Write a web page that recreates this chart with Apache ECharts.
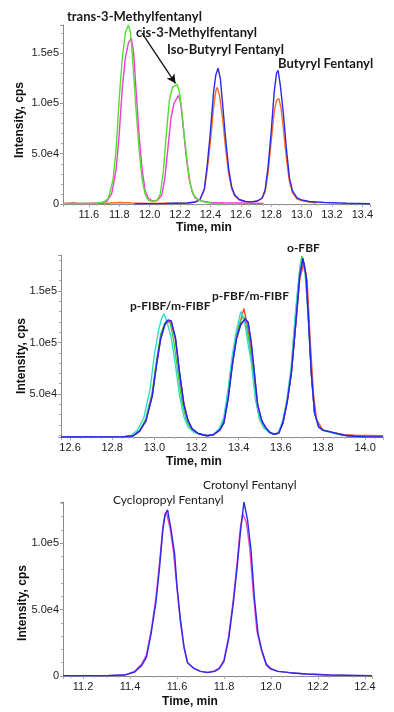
<!DOCTYPE html>
<html><head><meta charset="utf-8">
<script src="https://cdn.jsdelivr.net/npm/echarts@6/dist/echarts.min.js"></script>
<style>html,body{margin:0;padding:0;background:#fff}#c{width:394px;height:712px}</style>
</head><body><div id="c"></div>
<script>
// ---------- Panel 1: methylfentanyl / butyryl fentanyl (time min, intensity k cps)
var p1Green = [[11.43,0.5],[11.55,0.5],[11.65,0.8],[11.70,2],[11.73,6],[11.76,25],[11.78,55],[11.80,105],[11.82,145],[11.84,170],[11.86,178],[11.875,170],[11.89,140],[11.91,95],[11.93,55],[11.95,25],[11.97,10],[11.99,4],[12.02,2.5],[12.05,4],[12.07,10],[12.09,32],[12.11,70],[12.13,103],[12.15,116],[12.16,116.5],[12.18,119],[12.195,112],[12.21,95],[12.23,65],[12.25,38],[12.27,18],[12.29,9],[12.32,4],[12.36,2],[12.42,0.5],[12.48,0.3]];
var p1Pink = [[11.43,0.5],[11.60,0.5],[11.68,1],[11.72,3],[11.75,10],[11.78,35],[11.80,70],[11.82,115],[11.84,145],[11.86,160],[11.88,165],[11.895,150],[11.91,115],[11.93,70],[11.95,35],[11.97,14],[11.99,6],[12.02,3],[12.05,3.5],[12.08,9],[12.10,25],[12.12,55],[12.14,85],[12.16,100],[12.19,108],[12.205,100],[12.22,78],[12.24,48],[12.26,25],[12.28,12],[12.30,6],[12.34,3],[12.40,1.5],[12.50,1],[12.60,1],[12.75,0.5]];
var p1Orange = [[11.43,0.3],[11.50,1.2],[11.53,0.5],[11.70,0.5],[11.80,1.5],[11.88,1],[12.0,0.5],[12.25,1],[12.30,2],[12.33,4],[12.36,14],[12.38,35],[12.40,62],[12.42,95],[12.435,112],[12.445,116],[12.46,108],[12.48,85],[12.50,55],[12.52,30],[12.54,15],[12.56,8],[12.59,4],[12.63,2.5],[12.67,2],[12.71,3],[12.74,5.5],[12.76,12],[12.78,32],[12.80,62],[12.82,92],[12.835,103],[12.85,105],[12.865,95],[12.88,75],[12.90,45],[12.92,22],[12.94,11],[12.97,5],[13.0,3.5],[13.05,2],[13.1,1]];
var p1Blue = [[11.90,0.3],[12.1,0.5],[12.25,1],[12.30,2],[12.33,4],[12.36,15],[12.38,40],[12.40,72],[12.42,110],[12.435,128],[12.45,135],[12.465,125],[12.48,100],[12.50,65],[12.52,35],[12.54,17],[12.56,9],[12.59,4.5],[12.63,2.5],[12.67,2],[12.71,3],[12.74,6],[12.76,14],[12.78,38],[12.80,72],[12.82,112],[12.835,130],[12.845,133],[12.86,118],[12.88,90],[12.90,55],[12.92,26],[12.94,13],[12.97,6],[13.0,4],[13.05,2.5],[13.15,1.5],[13.3,0.8],[13.45,0.3]];
var p1Labels = ['trans-3-Methylfentanyl','cis-3-Methylfentanyl','Iso-Butyryl Fentanyl','Butyryl Fentanyl'];
var p1Arrow = [[11.95,170],[12.17,120]];

// ---------- Panel 2: fluorobutyryl fentanyl isomers
var p2Cyan = [[12.557,8.3],[12.85,8.4],[12.89,9.8],[12.92,15],[12.95,27],[12.98,55],[13.00,88],[13.02,112],[13.035,124],[13.045,128],[13.06,120],[13.08,105],[13.10,78],[13.12,48],[13.14,28],[13.16,18],[13.19,12.5],[13.24,9.8],[13.28,10.5],[13.31,17],[13.33,28],[13.35,55],[13.37,88],[13.39,112],[13.41,130],[13.425,124],[13.44,105],[13.46,80],[13.48,45],[13.50,25],[13.52,17],[13.55,12],[13.57,11],[13.59,13],[13.61,25],[13.63,46],[13.65,78],[13.67,130],[13.69,170],[13.70,180],[13.715,168],[13.73,125],[13.745,68],[13.76,32],[13.78,18],[13.80,14.5],[13.85,12],[13.90,10],[13.95,9],[14.0,8.5],[14.085,8.3]];
var p2Green = [[12.557,8.3],[12.85,8.4],[12.90,9.6],[12.93,14.5],[12.96,26],[12.99,52],[13.01,82],[13.03,108],[13.05,119],[13.06,121],[13.075,119],[13.09,104],[13.11,74],[13.13,44],[13.15,26],[13.17,17],[13.20,12],[13.25,9.6],[13.28,10.5],[13.31,16],[13.33,25],[13.35,50],[13.37,84],[13.39,110],[13.41,122],[13.425,125],[13.44,113],[13.46,86],[13.48,48],[13.50,26],[13.52,17.5],[13.55,12.3],[13.57,11],[13.59,12.5],[13.61,23],[13.63,44],[13.65,74],[13.67,128],[13.69,172],[13.70,184],[13.715,170],[13.73,128],[13.745,70],[13.76,32],[13.78,18],[13.80,15],[13.85,12.3],[13.90,10],[13.95,9],[14.0,8.6],[14.085,8.4]];
var p2Orange = [[12.557,8.3],[12.85,8.4],[12.90,9.5],[12.93,14],[12.96,25],[12.99,50],[13.01,80],[13.03,106],[13.05,118],[13.065,120],[13.08,119],[13.10,103],[13.12,70],[13.14,41],[13.16,24],[13.18,16],[13.21,11.5],[13.25,9.5],[13.28,10.5],[13.31,15],[13.33,23],[13.35,47],[13.37,80],[13.39,106],[13.41,122],[13.425,133],[13.44,118],[13.46,90],[13.48,46],[13.50,25],[13.52,17],[13.55,12.3],[13.57,11],[13.59,12],[13.61,22],[13.63,42],[13.65,70],[13.675,126],[13.69,162],[13.71,178],[13.725,160],[13.74,100],[13.755,50],[13.77,25],[13.80,15],[13.85,12.5],[13.90,10.5],[13.95,10],[14.0,9.8],[14.085,9.5]];
var p2Magenta = [[12.557,8.3],[12.85,8.4],[12.90,9.5],[12.93,14],[12.96,24],[12.99,48],[13.01,78],[13.03,103],[13.05,117],[13.065,121],[13.08,120],[13.10,104],[13.12,69],[13.14,40],[13.16,24],[13.18,16],[13.21,11.5],[13.25,9.5],[13.28,10.5],[13.31,15],[13.33,22],[13.35,45],[13.37,78],[13.39,104],[13.41,117],[13.43,122],[13.445,119],[13.46,99],[13.47,79],[13.49,40],[13.51,24],[13.53,17],[13.55,12.5],[13.57,11],[13.59,12],[13.61,22],[13.63,42],[13.65,70],[13.675,128],[13.69,165],[13.705,180],[13.72,164],[13.73,127],[13.745,70],[13.76,32],[13.78,18],[13.80,15],[13.85,12.5],[13.90,10],[13.95,9],[14.0,8.6],[14.085,8.4]];
var p2Blue = [[12.557,8.3],[12.85,8.4],[12.90,9.5],[12.93,14],[12.96,24],[12.99,48],[13.01,78],[13.03,104],[13.05,118],[13.065,122],[13.08,121],[13.10,105],[13.12,70],[13.14,40],[13.16,24],[13.18,16],[13.21,11.5],[13.25,9.5],[13.28,10.5],[13.31,15],[13.33,22],[13.35,45],[13.37,78],[13.39,104],[13.41,118],[13.43,123],[13.445,120],[13.46,100],[13.47,80],[13.49,40],[13.51,24],[13.53,17],[13.55,12.5],[13.57,11],[13.59,12],[13.61,22],[13.63,42],[13.65,70],[13.675,128],[13.69,165],[13.705,182],[13.72,165],[13.73,128],[13.745,70],[13.76,32],[13.78,18],[13.80,15],[13.85,12.5],[13.90,10],[13.95,9],[14.0,8.6],[14.085,8.4]];
var p2Labels = ['p-FIBF/m-FIBF','p-FBF/m-FIBF','o-FBF'];

// ---------- Panel 3: cyclopropyl / crotonyl fentanyl
var p3Magenta = [[11.115,0.3],[11.30,0.3],[11.38,0.9],[11.42,3.5],[11.45,9],[11.47,16],[11.49,34],[11.51,58],[11.525,84],[11.54,112],[11.547,120],[11.555,123],[11.57,112],[11.585,94],[11.60,66],[11.615,40],[11.63,21],[11.645,10],[11.67,6],[11.70,3.5],[11.73,2.8],[11.76,3.8],[11.78,6],[11.80,12],[11.82,30],[11.84,58],[11.855,84],[11.87,112],[11.88,122],[11.895,116],[11.91,96],[11.925,62],[11.94,34],[11.96,19],[11.98,8],[12.0,5],[12.03,3.5],[12.08,2.5],[12.15,1.5],[12.25,0.8],[12.35,0.5],[12.43,0.3]];
var p3Blue = [[11.115,0.3],[11.30,0.3],[11.38,0.8],[11.42,3],[11.45,8],[11.47,14],[11.49,32],[11.51,55],[11.525,80],[11.54,110],[11.55,122],[11.56,125],[11.575,110],[11.59,92],[11.60,68],[11.615,42],[11.63,22],[11.645,10],[11.67,6],[11.70,3.5],[11.73,2.5],[11.76,3.5],[11.78,5.5],[11.80,11],[11.82,28],[11.84,55],[11.855,80],[11.87,108],[11.885,131],[11.90,118],[11.915,95],[11.93,58],[11.945,32],[11.96,20],[11.98,9],[12.0,5.5],[12.03,3.5],[12.08,2.5],[12.15,1.5],[12.25,0.8],[12.35,0.5],[12.43,0.3]];
var p3Labels = ['Crotonyl Fentanyl','Cyclopropyl Fentanyl'];

var axisTitleX = 'Time, min';
var axisTitleY = 'Intensity, cps';
var xRanges = [[11.43,13.45],[12.557,14.085],[11.115,12.43]];
var yRanges = [[0,178000],[8300,185000],[0,131000]];
var yInterval = [50000, null, 50000];

function toCps(arr){ return arr.map(function(p){ return [p[0], p[1]*1000]; }); }
function fmtY(v){ if (v === 0) return '0'; return v.toExponential(1).replace('e+','e'); }

var grids = [
  {left:63, top:25, width:307, height:179},
  {left:61, top:255, width:322, height:182},
  {left:63, top:502, width:309, height:174}
];
var xSplit = [10, 8, 7];
var xAxes = grids.map(function(g,i){
  return {
    type:'value', gridIndex:i, min:xRanges[i][0], max:xRanges[i][1], splitNumber:xSplit[i],
    axisLine:{show:true, lineStyle:{color:'#8a8a8a', width:1}},
    axisTick:{show:true, length:3, lineStyle:{color:'#aaa'}},
    minorTick:{show:true, splitNumber:4, length:2, lineStyle:{color:'#bbb'}},
    splitLine:{show:false},
    axisLabel:{showMinLabel:false, showMaxLabel:false, color:'#222', fontFamily:'Liberation Sans, Arial', fontSize:11, margin:5,
      formatter:function(v){ return v.toFixed(1); }}
  };
});
var yAxes = grids.map(function(g,i){
  var a = {
    type:'value', gridIndex:i, min:yRanges[i][0], max:yRanges[i][1], splitNumber:4,
    axisLine:{show:true, lineStyle:{color:'#8a8a8a', width:1}},
    axisTick:{show:true, length:3, lineStyle:{color:'#999'}},
    minorTick:{show:true, splitNumber:5, length:2, lineStyle:{color:'#aaa'}},
    splitLine:{show:false},
    axisLabel:{showMinLabel: i===1 ? false : true, showMaxLabel:false, color:'#222', fontFamily:'Liberation Sans, Arial', fontSize:11, margin:4, formatter:fmtY}
  };
  if (yInterval[i]) a.interval = yInterval[i];
  return a;
});

function line(data, color, gi, extra){
  var s = {type:'line', xAxisIndex:gi, yAxisIndex:gi, data:toCps(data), showSymbol:false, symbol:'none',
    lineStyle:{color:color, width:1.4}, itemStyle:{color:color}, animation:false, silent:true};
  if (extra) for (var k in extra) s[k]=extra[k];
  return s;
}

var series = [
  line(p1Orange, '#ff6a2a', 0),
  line(p1Blue, '#2a2ae8', 0),
  line(p1Pink, '#f03cd8', 0),
  line(p1Green, '#55dd33', 0, {markLine:{silent:true, symbol:['none','arrow'], symbolSize:[7,9],
    lineStyle:{color:'#111', width:1.3, type:'solid'}, label:{show:false},
    data:[[{coord:[p1Arrow[0][0], p1Arrow[0][1]*1000]},{coord:[p1Arrow[1][0], p1Arrow[1][1]*1000]}]]}}),
  line(p2Orange, '#ff4a1a', 1),
  line(p2Green, '#44cc33', 1),
  line(p2Cyan, '#33ddc8', 1),
  line(p2Magenta, '#c040d0', 1),
  line(p2Blue, '#1a2ae8', 1),
  line(p3Magenta, '#ee44c8', 2),
  line(p3Blue, '#2a2ae8', 2)
];

var boldLbl13 = {fontFamily:'Lato, Open Sans', fontWeight:'bold', fontSize:13, fill:'#1a1a1a', textVerticalAlign:'middle'};
var boldLbl = {fontFamily:'Lato, Open Sans', fontWeight:'bold', fontSize:12, fill:'#1a1a1a', textVerticalAlign:'middle'};
var regLbl = {fontFamily:'Lato, Open Sans', fontWeight:'normal', fontSize:12, fill:'#1a1a1a', textVerticalAlign:'middle'};
function txt(s, x, y, st){ var o = {}; for (var k in st) o[k]=st[k]; o.text=s; o.x=0; o.y=0; return {type:'text', x:x, y:y, style:o, silent:true}; }
var xt = {fontFamily:'Liberation Sans, Arial', fontWeight:'bold', fontSize:12, fill:'#111', textAlign:'center', textVerticalAlign:'middle'};
function ytitle(x,y){ var o = {}; for (var k in xt) o[k]=xt[k]; o.text=axisTitleY; return {type:'text', x:x, y:y, rotation:Math.PI/2, style:o, silent:true}; }

var graphic = [
  txt(p1Labels[0], 67, 17, boldLbl13),
  txt(p1Labels[1], 136, 33, boldLbl13),
  txt(p1Labels[2], 167, 50, boldLbl13),
  txt(p1Labels[3], 278, 64, boldLbl13),
  txt(p2Labels[0], 130, 306, boldLbl),
  txt(p2Labels[1], 212, 296, boldLbl),
  txt(p2Labels[2], 287, 248, boldLbl),
  txt(p3Labels[0], 203, 485, regLbl),
  txt(p3Labels[1], 113, 500, regLbl),
  txt(axisTitleX, 204, 228, xt),
  txt(axisTitleX, 194, 462, xt),
  txt(axisTitleX, 190, 702, xt),
  ytitle(20, 120), ytitle(22, 356), ytitle(23, 603)
];

var chart = echarts.init(document.getElementById('c'), null, {renderer:'canvas'});
chart.setOption({animation:false, backgroundColor:'#fff', grid:grids, xAxis:xAxes, yAxis:yAxes, series:series, graphic:graphic});
</script></body></html>
